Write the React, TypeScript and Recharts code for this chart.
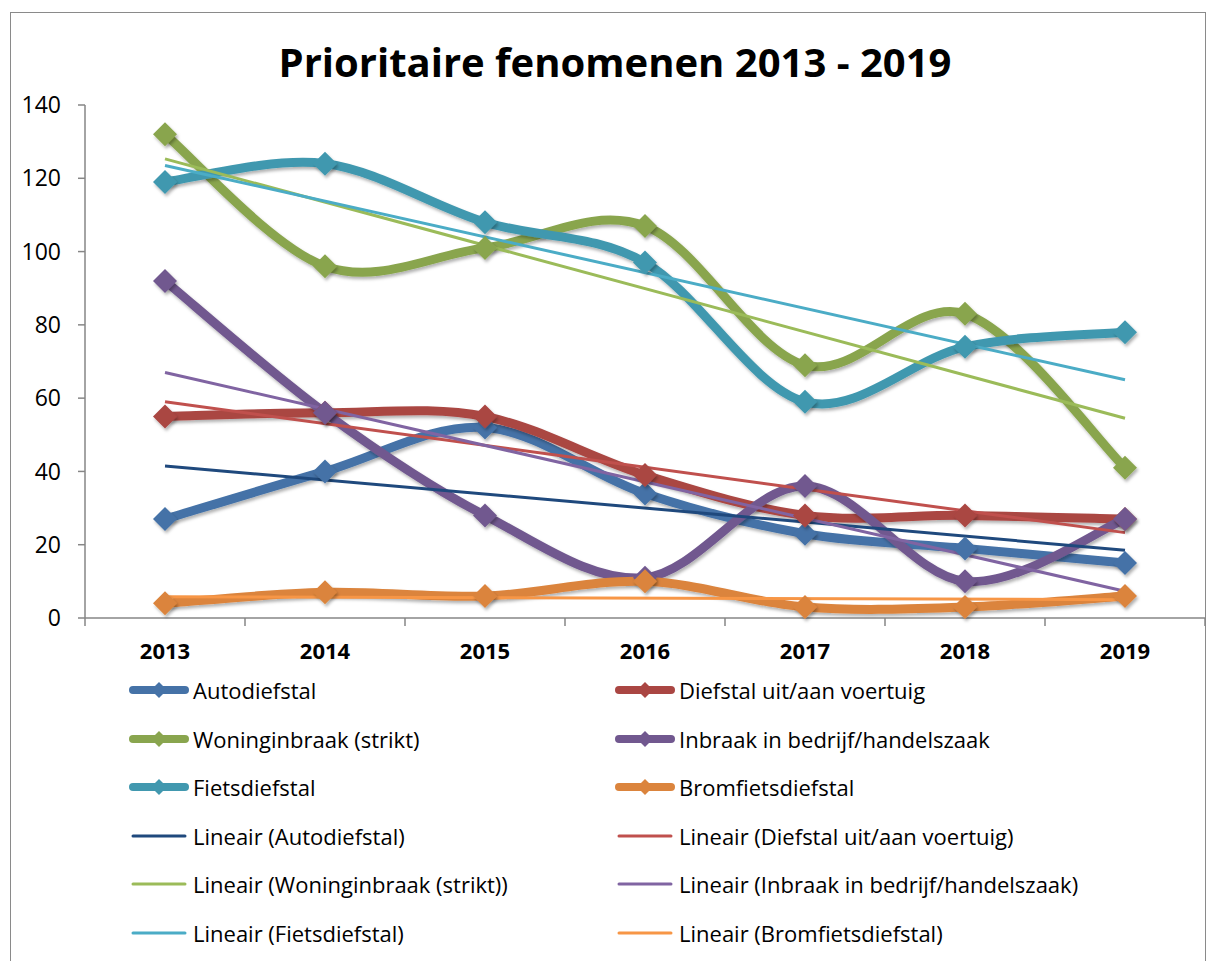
import { LineChart, Line, XAxis, YAxis } from "recharts";

const years = ["2013", "2014", "2015", "2016", "2017", "2018", "2019"];

const autodiefstal = [27, 40, 52, 34, 23, 19, 15];
const diefstalVoertuig = [55, 56, 55, 39, 28, 28, 27];
const woninginbraak = [132, 96, 101, 107, 69, 83, 41];
const inbraakBedrijf = [92, 56, 28, 11, 36, 10, 27];
const fietsdiefstal = [119, 124, 108, 97, 59, 74, 78];
const bromfietsdiefstal = [4, 7, 6, 10, 3, 3, 6];

// trend lines: start (2013) and end (2019) values
const trendAuto = [41.5, 18.5];
const trendDiefstal = [59, 23.3];
const trendWoning = [125.3, 54.5];
const trendInbraak = [67, 7.3];
const trendFiets = [123.5, 65];
const trendBrom = [5.8, 5.0];

const yTicks = [0, 20, 40, 60, 80, 100, 120, 140];

const series = [
  { key: "auto", name: "Autodiefstal", values: autodiefstal, color: "#4572A7", trend: trendAuto, trendColor: "#1F497D" },
  { key: "diefstal", name: "Diefstal uit/aan voertuig", values: diefstalVoertuig, color: "#AA4643", trend: trendDiefstal, trendColor: "#C0504D" },
  { key: "woning", name: "Woninginbraak (strikt)", values: woninginbraak, color: "#89A54E", trend: trendWoning, trendColor: "#9BBB59" },
  { key: "inbraak", name: "Inbraak in bedrijf/handelszaak", values: inbraakBedrijf, color: "#71588F", trend: trendInbraak, trendColor: "#8064A2" },
  { key: "fiets", name: "Fietsdiefstal", values: fietsdiefstal, color: "#4198AF", trend: trendFiets, trendColor: "#4BACC6" },
  { key: "brom", name: "Bromfietsdiefstal", values: bromfietsdiefstal, color: "#DB843D", trend: trendBrom, trendColor: "#F79646" },
];

const data = years.map((year, i) => {
  const row: any = { year };
  series.forEach((s) => {
    row[s.key] = s.values[i];
    row[s.key + "Trend"] = i === 0 ? s.trend[0] : i === years.length - 1 ? s.trend[1] : null;
  });
  return row;
});

// Excel-like smoothed line (bezier, 1/6 of neighbour difference)
const excelCurve = (context: any) => {
  let pts: number[][] = [];
  return {
    areaStart() {},
    areaEnd() {},
    lineStart() {
      pts = [];
    },
    point(x: number, y: number) {
      pts.push([x, y]);
    },
    lineEnd() {
      if (!pts.length) return;
      context.moveTo(pts[0][0], pts[0][1]);
      for (let i = 0; i < pts.length - 1; i++) {
        const p0 = pts[i - 1] || pts[i];
        const p1 = pts[i];
        const p2 = pts[i + 1];
        const p3 = pts[i + 2] || p2;
        context.bezierCurveTo(
          p1[0] + (p2[0] - p0[0]) / 6,
          p1[1] + (p2[1] - p0[1]) / 6,
          p2[0] - (p3[0] - p1[0]) / 6,
          p2[1] - (p3[1] - p1[1]) / 6,
          p2[0],
          p2[1]
        );
      }
    },
  };
};

const font = "'Open Sans', 'Noto Sans', sans-serif";
const BAND = 80; // half the category width

// @ts-ignore
const Diamond = (props) => {
  const { cx, cy, fill } = props;
  if (cx == null || cy == null) return null;
  const r = 12;
  return (
    <polygon
      points={`${cx},${cy - r} ${cx + r},${cy} ${cx},${cy + r} ${cx - r},${cy}`}
      fill={fill}
      filter="url(#shade)"
    />
  );
};

// @ts-ignore
const YearTick = (props) => {
  const { x, y, payload, index } = props;
  const last = index === years.length - 1;
  return (
    <g>
      <line x1={x - BAND} y1={y - 21} x2={x - BAND} y2={y - 13} stroke="#868686" strokeWidth={1.5} />
      {last && <line x1={x + BAND} y1={y - 21} x2={x + BAND} y2={y - 13} stroke="#868686" strokeWidth={1.5} />}
      <text x={x} y={y + 20} textAnchor="middle" fill="#000" fontSize={22} fontWeight={700} fontFamily={font}>
        {payload.value}
      </text>
    </g>
  );
};

const LegendItem = ({ color, name, trend }: any) => (
  <div style={{ display: "flex", alignItems: "center", height: 48.5 }}>
    <svg width={64} height={20} style={{ flex: "none" }}>
      <line x1={5} y1={10} x2={57} y2={10} stroke={color} strokeWidth={trend ? 3 : 8} strokeLinecap="round" />
      {!trend && <polygon points="31,2 39,10 31,18 23,10" fill={color} />}
    </svg>
    <span style={{ marginLeft: 1 }}>{name}</span>
  </div>
);

export default function App() {
  const legendRows: any[] = [];
  series.forEach((s) => legendRows.push({ color: s.color, name: s.name, trend: false }));
  series.forEach((s) => legendRows.push({ color: s.trendColor, name: `Lineair (${s.name})`, trend: true }));

  return (
    <div
      style={{
        position: "absolute",
        left: 0,
        top: 0,
        width: 1208,
        height: 961,
        background: "#fff",
        overflow: "hidden",
        fontFamily: font,
      }}
    >
      <div
        style={{
          position: "absolute",
          left: 10,
          top: 12,
          width: 1194,
          height: 1000,
          border: "1.5px solid #8a8a8a",
        }}
      />
      <div
        style={{
          position: "absolute",
          left: 0,
          width: 1230,
          top: 34,
          textAlign: "center",
          fontSize: 40,
          fontWeight: 700,
          color: "#000",
        }}
      >
        Prioritaire fenomenen 2013 - 2019
      </div>
      <div style={{ position: "absolute", left: 0, top: 0 }}>
        <LineChart
          width={1208}
          height={961}
          data={data}
          margin={{ top: 105, right: 3, left: 8, bottom: 293 }}
        >
          <defs>
            <filter id="shade" x="-50%" y="-50%" width="200%" height="200%">
              <feDropShadow dx={1.5} dy={2.5} stdDeviation={1.8} floodColor="#000" floodOpacity={0.3} />
            </filter>
          </defs>
          <XAxis
            dataKey="year"
            stroke="#868686"
            strokeWidth={1.5}
            tickLine={false}
            tickSize={7}
            tick={<YearTick />}
            tickMargin={14}
            height={50}
            interval={0}
            padding={{ left: BAND, right: BAND }}
          />
          <YAxis
            domain={[0, 140]}
            ticks={yTicks}
            width={77}
            stroke="#868686"
            strokeWidth={1.5}
            tickSize={7}
            tickMargin={17}
            tick={{ fill: "#000", fontSize: 23, fontFamily: font }}
            interval={0}
          />
          {series.map((s) => (
            <Line
              key={s.key}
              dataKey={s.key}
              type={excelCurve as any}
              stroke={s.color}
              strokeWidth={9}
              strokeLinecap="round"
              strokeLinejoin="round"
              dot={<Diamond fill={s.color} />}
              activeDot={false}
              isAnimationActive={false}
              style={{ filter: "url(#shade)" }}
            />
          ))}
          {series.map((s) => (
            <Line
              key={s.key + "Trend"}
              dataKey={s.key + "Trend"}
              type="linear"
              connectNulls
              stroke={s.trendColor}
              strokeWidth={3}
              dot={false}
              activeDot={false}
              isAnimationActive={false}
            />
          ))}
        </LineChart>
      </div>
      <div
        style={{
          position: "absolute",
          left: 128,
          top: 666,
          width: 1000,
          display: "grid",
          gridTemplateColumns: "486px 500px",
          fontSize: 22,
          color: "#000",
        }}
      >
        {legendRows.map((r, i) => (
          <LegendItem key={i} {...r} />
        ))}
      </div>
    </div>
  );
}
